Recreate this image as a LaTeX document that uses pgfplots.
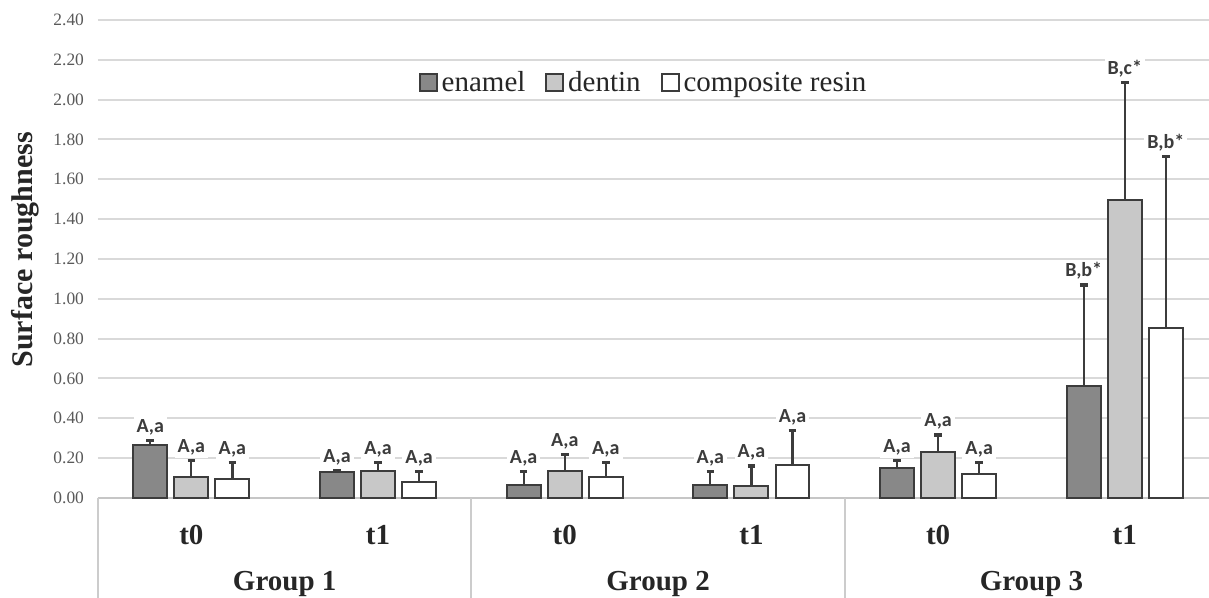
\documentclass[border=0pt]{standalone}
\usepackage{pgfplots}
\usepackage{pgfplotstable}
\pgfplotsset{compat=1.18}
\usepackage{fontspec}
\setmainfont{Liberation Serif}
\newfontfamily\calibri{Carlito}
\definecolor{enam}{HTML}{888888}
\definecolor{dent}{HTML}{C8C8C8}
\definecolor{bdr}{HTML}{3C3C3C}
\definecolor{grd}{HTML}{D9D9D9}
\definecolor{tlab}{HTML}{595959}

\pgfplotstableread{
x   e     ee    d     de    c     ce    le   ld   lc
0.5 0.265 0.023 0.105 0.083 0.095 0.082 A,a  A,a  A,a
1.5 0.133 0.007 0.136 0.041 0.082 0.051 A,a  A,a  A,a
2.5 0.065 0.068 0.136 0.084 0.107 0.070 A,a  A,a  A,a
3.5 0.065 0.068 0.060 0.101 0.166 0.172 A,a  A,a  A,a
4.5 0.152 0.036 0.233 0.083 0.119 0.058 A,a  A,a  A,a
5.5 0.563 0.506 1.496 0.592 0.855 0.859 B,b* B,c* B,b*
}\data

\pgfplotsset{
  mybar/.style={ybar, bar width=0.182, bar shift=0pt, draw=bdr, line width=1pt,
    error bars/y dir=plus, error bars/y explicit,
    error bars/error mark=-,
    error bars/error bar style={draw=bdr, line width=1.1pt},
    error bars/error mark options={rotate=90, draw=bdr, line width=1.6pt, mark size=1.9pt}},
  mylab/.style={ybar, bar width=0.182, bar shift=0pt, draw=none, fill=none, forget plot,
    nodes near coords, point meta=explicit symbolic,
    every node near coord/.append style={font=\calibri\bfseries\fontsize{10}{10}\selectfont, text=bdr, fill=white, inner sep=1.5pt, yshift=1pt}}
}

\begin{document}
\begin{tikzpicture}
\begin{axis}[
  name=ax, scale only axis, width=555.5pt, height=239pt,
  xmin=0, xmax=5.951, ymin=0, ymax=2.4,
  clip=false,
  axis lines*=left,
  y axis line style={draw=none},
  x axis line style={draw=gray!45, line width=1pt},
  ymajorgrids, grid style={draw=grd, line width=1pt},
  ytick={0,0.2,0.4,0.6,0.8,1.0,1.2,1.4,1.6,1.8,2.0,2.2,2.4},
  /pgf/number format/assume math mode=true,
  yticklabel style={/pgf/number format/fixed, /pgf/number format/fixed zerofill,
    /pgf/number format/precision=2, font=\fontsize{8.7}{9}\selectfont, text=tlab, xshift=-3.5pt},
  ytick style={draw=none},
  major tick length=0pt,
  tick style={draw=gray!40, line width=1pt},
  xtick={0.5,1.5,2.5,3.5,4.5,5.5},
  xticklabels={t0,t1,t0,t1,t0,t1},
  xticklabel style={anchor=center, yshift=-18.5pt, font=\bfseries\fontsize{14.5}{15}\selectfont, text=black!85},
  extra x ticks={0,2,4},
  extra x tick labels={},
  extra x tick style={major tick length=50pt, tick align=outside, tick style={draw=gray!40, line width=1pt}},
  ylabel={Surface roughness},
  every axis y label/.style={at={(rel axis cs:-0.0653,0.519)}, rotate=90, anchor=center,
    font=\bfseries\fontsize{15}{15}\selectfont, text=black!85},
  legend style={at={(0.492,0.868)}, anchor=center, draw=none, fill=none,
    font=\fontsize{14.5}{15}\selectfont, text=black!85,
    /tikz/every even column/.append style={column sep=8pt}},
  legend columns=3,
  legend image code/.code={\draw[#1, line width=0.9pt] (0pt,-4pt) rectangle (8.5pt,4.5pt);},
]
\addplot[mybar, fill=enam] table[x expr=\thisrow{x}-0.22, y=e, y error=ee]{\data};
\addlegendentry{enamel}
\addplot[mybar, fill=dent] table[x expr=\thisrow{x}, y=d, y error=de]{\data};
\addlegendentry{dentin}
\addplot[mybar, fill=white] table[x expr=\thisrow{x}+0.22, y=c, y error=ce]{\data};
\addlegendentry{composite resin}

\addplot[mylab] table[x expr=\thisrow{x}-0.22, y expr=\thisrow{e}+\thisrow{ee}, meta=le]{\data};
\addplot[mylab] table[x expr=\thisrow{x}, y expr=\thisrow{d}+\thisrow{de}, meta=ld]{\data};
\addplot[mylab] table[x expr=\thisrow{x}+0.22, y expr=\thisrow{c}+\thisrow{ce}, meta=lc]{\data};

\node[font=\bfseries\fontsize{14.5}{15}\selectfont, text=black!85, anchor=center] at ([yshift=-43pt]axis cs:1,0) {Group 1};
\node[font=\bfseries\fontsize{14.5}{15}\selectfont, text=black!85, anchor=center] at ([yshift=-43pt]axis cs:3,0) {Group 2};
\node[font=\bfseries\fontsize{14.5}{15}\selectfont, text=black!85, anchor=center] at ([yshift=-43pt]axis cs:5,0) {Group 3};
\end{axis}
\pgfresetboundingbox
\path[use as bounding box] ([xshift=-49pt,yshift=-50pt]ax.south west) rectangle ([yshift=10pt]ax.north east);
\end{tikzpicture}
\end{document}
